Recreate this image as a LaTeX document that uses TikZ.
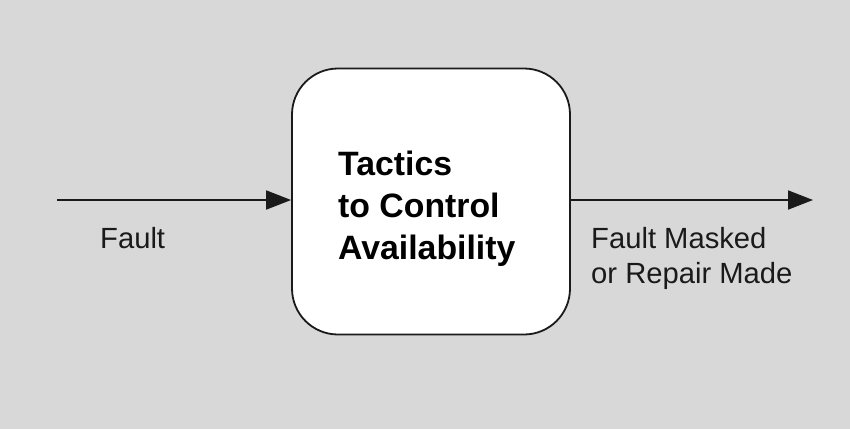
\documentclass[tikz,border=0pt]{standalone}
\usepackage{fontspec}
\setmainfont{Liberation Sans}
\usetikzlibrary{arrows.meta}
\definecolor{bg}{HTML}{D8D8D8}
\definecolor{ln}{HTML}{1A1A1A}
\begin{document}
\begin{tikzpicture}[x=1pt,y=-1pt,
  boxstyle/.style={draw=ln, line width=1.8pt, fill=white, rounded corners=46pt,
    minimum width=278pt, minimum height=266pt, inner sep=0pt},
  flow/.style={draw=ln, line width=1.8pt, -{Triangle[length=25pt,width=19pt]}},
  lbl/.style={anchor=base west, inner sep=0pt, font=\fontsize{29.2}{35}\selectfont, text=ln},
  title/.style={anchor=base west, inner sep=0pt, font=\bfseries\fontsize{33.8}{42}\selectfont, text=black}]
\fill[bg] (0,0) rectangle (850,429);
\useasboundingbox (0,0) rectangle (850,429);
\node[boxstyle] (box) at (431,201.5) {};
\coordinate (start) at (57,200);
\coordinate (stop) at (813,200);
\draw[flow] (start) -- (box.west |- start);
\draw[flow] (box.east |- stop) -- (stop);
\node[title] (t1) at (338,175) {Tactics};
\node[title] (t2) at (338,217) {to Control};
\node[title] (t3) at (338,259) {Availability};
\node[lbl] (fault) at (100,248) {Fault};
\node[lbl] (out1) at (591,248) {Fault Masked};
\node[lbl] (out2) at (591,283) {or Repair Made};
\end{tikzpicture}
\end{document}
